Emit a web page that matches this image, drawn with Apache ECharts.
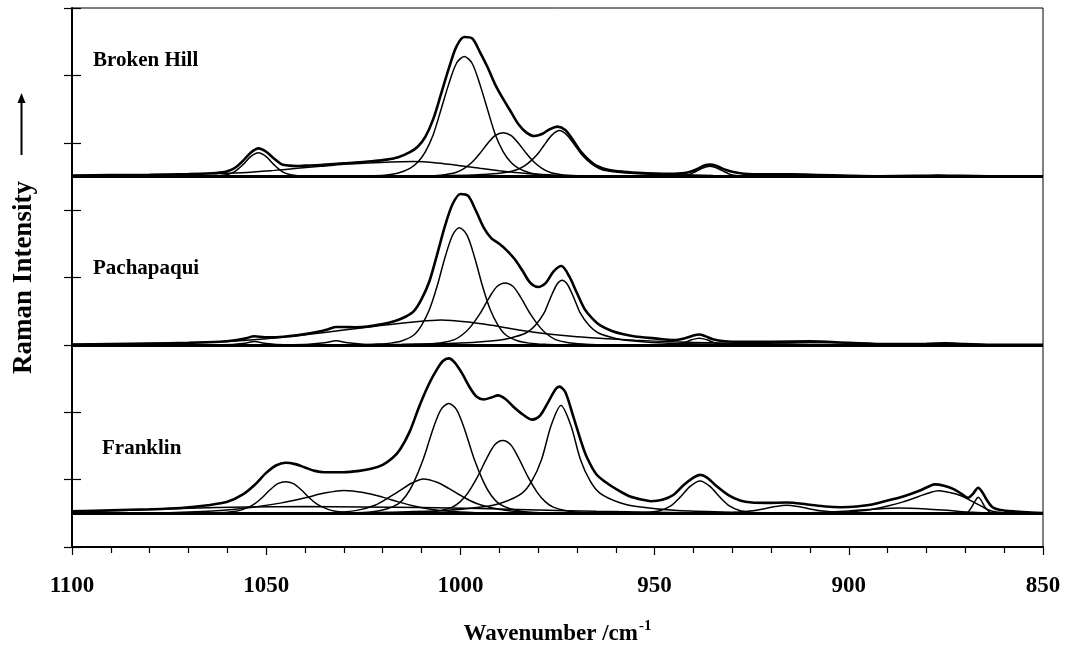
<!DOCTYPE html>
<html>
<head>
<meta charset="utf-8">
<script src="https://cdn.jsdelivr.net/npm/echarts/dist/echarts.min.js"></script>
<style>
  html, body { margin: 0; padding: 0; background: #fff; }
  #chart { width: 1068px; height: 653px; }
</style>
</head>
<body>
<div id="chart"></div>
<script>
// Raman spectra, three samples, fitted components (thin) + overall band (thick)
// values: [wavenumber /cm-1, intensity above the sample's own baseline]

// --- Broken Hill ---
const bhSum = [[1100,0.015],[1090,0.02],[1080,0.025],[1070,0.035],[1064,0.047],[1062,0.057],[1060,0.078],[1058,0.129],[1056,0.231],[1054,0.353],[1052,0.416],[1050,0.366],[1048,0.265],[1046,0.18],[1044,0.16],[1042,0.155],[1040,0.16],[1036,0.17],[1030,0.195],[1027,0.205],[1023,0.225],[1019,0.25],[1016,0.285],[1013,0.36],[1011,0.44],[1009,0.59],[1007,0.85],[1005,1.22],[1003,1.6],[1001,1.93],[999,2.07],[997,2.05],[995,1.85],[993,1.62],[991,1.36],[989,1.15],[987,0.96],[985,0.77],[983,0.65],[981,0.6],[979,0.63],[977,0.7],[975,0.74],[973,0.69],[971,0.54],[969,0.37],[967,0.25],[965,0.16],[962,0.1],[958,0.07],[953,0.05],[948,0.04],[945,0.038],[943,0.045],[941,0.065],[939,0.11],[937,0.165],[935.8,0.175],[934,0.155],[932,0.105],[930,0.07],[927,0.04],[922,0.03],[915,0.03],[908,0.022],[900,0.01],[892,0.003],[883,0.008],[877,0.015],[871,0.008],[864,0.002],[850,0]];
const bh1052 = [[1068,0],[1064,0.005],[1062,0.012],[1060,0.028],[1058,0.076],[1056,0.175],[1054,0.293],[1052,0.35],[1050,0.293],[1048,0.175],[1046,0.076],[1044,0.028],[1042,0.012],[1040,0.005],[1036,0]];
const bhBroad = [[1100,0.01],[1090,0.015],[1080,0.025],[1070,0.035],[1062,0.045],[1055,0.06],[1048,0.09],[1042,0.12],[1036,0.15],[1030,0.18],[1024,0.2],[1018,0.215],[1012,0.22],[1006,0.2],[1000,0.16],[995,0.12],[990,0.085],[985,0.055],[980,0.032],[975,0.018],[968,0.008],[960,0]];
const bh999 = [[1027,0],[1023,0.009],[1019,0.023],[1016,0.05],[1013,0.12],[1011,0.21],[1009,0.37],[1007,0.62],[1005,0.99],[1003,1.37],[1001,1.68],[999,1.78],[997,1.68],[995,1.37],[993,0.99],[991,0.62],[989,0.37],[987,0.21],[985,0.12],[982,0.05],[979,0.023],[975,0.009],[971,0]];
const bh989 = [[1011,0],[1007,0.011],[1004,0.026],[1001,0.062],[999,0.12],[997,0.21],[995,0.34],[993,0.49],[991,0.61],[989,0.65],[987,0.61],[985,0.49],[983,0.34],[981,0.21],[979,0.12],[977,0.062],[974,0.026],[971,0.011],[967,0]];
const bh974 = [[1020,0],[1008,0.008],[996.5,0.02],[991.5,0.039],[988.5,0.059],[985.5,0.1],[983.5,0.157],[981.5,0.25],[980,0.34],[978.5,0.46],[976.5,0.61],[974.5,0.68],[972.5,0.61],[970.5,0.46],[969,0.34],[967.5,0.25],[965.5,0.157],[963.5,0.1],[960.5,0.07],[957.5,0.05],[952.5,0.035],[945,0.025],[935,0.015],[920,0.005],[905,0]];
const bh936 = [[946,0],[943,0.01],[941,0.03],[939.5,0.07],[938,0.115],[935.8,0.15],[933.6,0.115],[932,0.07],[930.5,0.03],[928.5,0.01],[925,0]];
const bh915 = [[935,0],[928,0.01],[922,0.02],[915,0.025],[908,0.02],[900,0.01],[892,0]];
const bh877 = [[890,0],[883,0.008],[877,0.015],[871,0.008],[864,0]];

// --- Pachapaqui ---
const paSum = [[1100,0.005],[1090,0.012],[1080,0.02],[1070,0.03],[1062,0.046],[1058,0.068],[1055.5,0.093],[1053,0.128],[1050.5,0.113],[1048,0.112],[1044,0.13],[1040,0.16],[1037,0.19],[1034,0.232],[1032,0.266],[1030,0.265],[1027,0.262],[1024,0.272],[1020,0.31],[1017,0.35],[1014,0.421],[1012,0.5],[1010,0.68],[1008,0.94],[1006,1.34],[1004,1.76],[1002,2.09],[1000,2.24],[998,2.21],[996,1.99],[994,1.74],[992,1.58],[990,1.5],[988,1.4],[986,1.27],[984,1.1],[982,0.92],[980,0.86],[978,0.92],[976,1.09],[974,1.17],[972,1.02],[970,0.77],[968,0.53],[966,0.39],[964,0.288],[961,0.207],[958,0.157],[955,0.124],[950,0.097],[945,0.071],[942,0.102],[940,0.138],[938.5,0.153],[937,0.13],[935,0.085],[932,0.055],[928,0.044],[920,0.047],[910,0.053],[900,0.031],[890,0.012],[880,0.017],[875,0.023],[870,0.012],[862,0],[850,0]];
const pa1053 = [[1062,0],[1058,0.01],[1055.5,0.025],[1053,0.05],[1050.5,0.025],[1048,0.01],[1044,0]];
const pa1032 = [[1045,0],[1039,0.01],[1035,0.03],[1032,0.06],[1029,0.03],[1025,0.01],[1019,0]];
const paBroad = [[1100,0.005],[1085,0.015],[1070,0.03],[1060,0.05],[1050,0.09],[1040,0.15],[1030,0.22],[1020,0.29],[1012,0.34],[1005,0.37],[998,0.34],[992,0.29],[985,0.22],[978,0.165],[970,0.12],[962,0.09],[955,0.068],[945,0.045],[935,0.03],[920,0.015],[905,0.006],[890,0]];
const pa1000 = [[1026,0],[1022,0.01],[1018,0.026],[1015,0.06],[1012,0.146],[1010,0.29],[1008,0.52],[1006,0.87],[1004,1.29],[1002,1.63],[1000.3,1.74],[998.3,1.63],[996.3,1.29],[994.3,0.87],[992.3,0.52],[990.3,0.29],[988.3,0.146],[985.3,0.06],[982.3,0.026],[978.3,0.008],[974,0]];
const pa988 = [[1013.5,0],[1008.5,0.012],[1004.5,0.035],[1001.5,0.078],[999.5,0.15],[997.5,0.26],[995,0.46],[992.5,0.71],[990.5,0.87],[988.5,0.92],[986.5,0.87],[984.5,0.71],[982,0.46],[979.5,0.26],[977.5,0.15],[975.5,0.078],[972.5,0.035],[968.5,0.012],[963.5,0]];
const pa974 = [[1029,0],[1015,0.01],[1001.4,0.024],[992.2,0.058],[987.6,0.096],[983,0.18],[980.7,0.29],[978.4,0.48],[977.3,0.63],[976.1,0.79],[975,0.91],[973.8,0.96],[972.6,0.91],[971.5,0.79],[970.3,0.63],[969.2,0.48],[966.9,0.29],[964.6,0.18],[960,0.096],[955.4,0.058],[946.2,0.024],[933,0.01],[919,0]];
const pa938 = [[948,0],[944,0.015],[942,0.04],[940.5,0.075],[938.5,0.1],[936.5,0.075],[935,0.04],[933,0.015],[929,0]];
const pa910 = [[935,0],[925,0.015],[917,0.03],[910,0.04],[902,0.03],[893,0.015],[880,0.005],[870,0]];
const pa877 = [[888,0],[880,0.012],[875,0.02],[870,0.012],[862,0]];

// --- Franklin ---
const frSum = [[1100,0.03],[1090,0.045],[1080,0.06],[1072,0.08],[1065,0.12],[1060,0.17],[1056,0.28],[1053,0.42],[1050,0.6],[1047.5,0.71],[1045,0.75],[1042.5,0.73],[1040,0.68],[1037.5,0.63],[1035,0.61],[1030,0.61],[1026,0.63],[1023,0.66],[1020,0.72],[1017.5,0.82],[1015.5,0.95],[1013,1.22],[1010.5,1.6],[1008,1.93],[1006,2.14],[1004.5,2.26],[1003,2.3],[1001.5,2.24],[999.5,2.07],[997.5,1.86],[995.8,1.73],[994,1.69],[992,1.72],[990.3,1.75],[988.5,1.7],[986.5,1.59],[984,1.47],[981.5,1.39],[979.5,1.45],[977.5,1.64],[975.5,1.84],[974.5,1.88],[973,1.8],[971,1.45],[969,1.08],[967.5,0.84],[965,0.58],[962.3,0.45],[959,0.33],[956.3,0.25],[953,0.2],[951,0.18],[948,0.2],[945,0.28],[942.5,0.42],[940,0.53],[938.3,0.57],[936.5,0.53],[934,0.4],[931,0.27],[928,0.19],[925,0.16],[921,0.155],[916,0.16],[911,0.135],[906,0.1],[902,0.09],[898,0.1],[894,0.13],[890,0.19],[886,0.25],[882,0.33],[879,0.41],[877.8,0.43],[875.5,0.41],[873,0.36],[871,0.29],[869.3,0.23],[868,0.29],[866.7,0.38],[865.7,0.32],[864.5,0.2],[863,0.09],[861,0.05],[857,0.025],[853,0.01],[850,0.005]];
const frBroad = [[1100,0.02],[1085,0.045],[1070,0.075],[1055,0.095],[1040,0.1],[1025,0.095],[1010,0.085],[995,0.07],[980,0.05],[965,0.03],[950,0.015],[935,0.005],[920,0]];
const fr1045 = [[1069,0],[1063,0.007],[1060,0.016],[1057,0.04],[1055,0.08],[1053,0.14],[1051,0.235],[1049,0.35],[1047,0.44],[1045,0.47],[1043,0.44],[1041,0.35],[1039,0.235],[1037,0.14],[1035,0.08],[1033,0.04],[1030,0.016],[1027,0.007],[1021,0]];
const fr1030 = [[1090,0],[1075,0.01],[1065,0.03],[1058,0.06],[1052,0.1],[1046,0.155],[1040,0.23],[1035,0.3],[1030,0.34],[1025,0.31],[1020,0.24],[1016,0.17],[1012,0.11],[1008,0.065],[1003,0.03],[996,0.01],[988,0]];
const fr1009 = [[1040,0],[1033,0.01],[1027,0.04],[1022,0.12],[1018,0.25],[1015.5,0.34],[1012.5,0.45],[1009.5,0.51],[1006,0.46],[1003,0.37],[999.5,0.25],[996,0.15],[992.5,0.09],[988,0.04],[983,0.015],[975,0]];
const fr1003 = [[1033,0],[1028,0.008],[1023,0.021],[1019,0.065],[1016,0.14],[1014,0.26],[1012,0.46],[1009.5,0.815],[1007,1.26],[1005,1.54],[1003,1.63],[1001,1.54],[999,1.26],[996.5,0.815],[994,0.46],[992,0.26],[990,0.14],[987,0.065],[983,0.021],[978,0.008],[973,0]];
const fr989 = [[1019,0],[1014.1,0.005],[1009.1,0.014],[1005.1,0.043],[1002.1,0.092],[1000.1,0.17],[998.1,0.3],[995.6,0.54],[993.1,0.83],[991.1,1.02],[989.1,1.08],[987.1,1.02],[985.1,0.83],[982.6,0.54],[980.1,0.3],[978.1,0.17],[976.1,0.092],[973.1,0.043],[969.1,0.014],[964.1,0.005],[959,0]];
const fr974 = [[1034,0],[1019,0.016],[1004.1,0.04],[994.1,0.096],[989.1,0.16],[984.1,0.3],[981.6,0.48],[979.1,0.8],[976.6,1.31],[974.1,1.6],[971.6,1.31],[969.1,0.8],[966.6,0.48],[964.1,0.3],[959.1,0.16],[954.1,0.096],[944.1,0.04],[929,0.016],[914,0]];
const fr938 = [[958.3,0],[953.6,0.007],[951,0.017],[948.5,0.041],[945.95,0.105],[943.4,0.24],[940.85,0.4],[938.3,0.48],[935.75,0.4],[933.2,0.24],[930.65,0.105],[928.1,0.041],[925.55,0.017],[923,0.007],[918,0]];
const fr916 = [[936,0],[930,0.01],[926,0.03],[922,0.065],[919,0.1],[916,0.12],[913,0.1],[910,0.065],[906,0.03],[902,0.01],[896,0]];
const fr887 = [[918,0],[908,0.012],[900,0.035],[894,0.06],[887,0.08],[880,0.065],[874,0.04],[868,0.015],[862,0]];
const fr877 = [[905,0],[900,0.02],[895,0.05],[890,0.11],[886,0.17],[882,0.25],[879,0.31],[877,0.335],[875,0.32],[872,0.28],[870,0.23],[868,0.17],[866,0.11],[864,0.05],[862,0.02],[858,0]];
const fr866 = [[869.5,0],[868.5,0.08],[867.5,0.18],[866.7,0.24],[866,0.2],[865,0.1],[864,0.03],[863.3,0]];

const sampleNames = ['Broken Hill', 'Pachapaqui', 'Franklin'];

// where each spectrum sits on the shared intensity axis
const panels = [
  { offset: 5.5, sum: bhSum, parts: [bh1052, bhBroad, bh999, bh989, bh974, bh936, bh915, bh877] },
  { offset: 3.0, sum: paSum, parts: [pa1053, pa1032, paBroad, pa1000, pa988, pa974, pa938, pa910, pa877] },
  { offset: 0.5, sum: frSum, parts: [frBroad, fr1045, fr1030, fr1009, fr1003, fr989, fr974, fr938, fr916, fr887, fr877, fr866] }
];

const serif = '"Liberation Serif", "Times New Roman", serif';
const chart = echarts.init(document.getElementById('chart'));

const series = [];
panels.forEach(p => {
  const lift = arr => arr.map(([w, v]) => [w, +(v + p.offset).toFixed(4)]);
  p.parts.forEach(part => {
    series.push({
      type: 'line',
      data: lift(part),
      symbol: 'none',
      smooth: 0.3,
      silent: true,
      lineStyle: { color: '#000', width: 1.5 },
      z: 2
    });
  });
  series.push({
    type: 'line',
    data: lift(p.sum),
    symbol: 'none',
    smooth: 0.3,
    silent: true,
    lineStyle: { color: '#000', width: 2.6 },
    z: 3,
    markLine: {
      silent: true,
      symbol: ['none', 'none'],
      label: { show: false },
      lineStyle: { color: '#000', width: 3, type: 'solid' },
      data: [{ yAxis: p.offset }]
    }
  });
});

// panel captions
const captionPos = [[93, 66], [93, 274], [102, 454]];
const graphics = sampleNames.map((n, i) => ({
  type: 'text',
  left: captionPos[i][0],
  top: captionPos[i][1] - 16,
  style: { text: n, font: 'bold 21px ' + serif, fill: '#000' }
}));
// arrow beside the intensity label
graphics.push(
  { type: 'line', shape: { x1: 21.5, y1: 155, x2: 21.5, y2: 100 }, style: { stroke: '#000', lineWidth: 2 } },
  { type: 'polygon', shape: { points: [[21.5, 93], [17.5, 103], [25.5, 103]] }, style: { fill: '#000' } }
);

const yBase = {
  type: 'value',
  min: 0,
  max: 8,
  interval: 1,
  axisLabel: { show: false },
  splitLine: { show: false }
};

chart.setOption({
  animation: false,
  backgroundColor: '#fff',
  grid: {
    left: 72, right: 25, top: 8, bottom: 106,
    show: true, borderColor: '#000', borderWidth: 1
  },
  xAxis: {
    type: 'value',
    min: 850,
    max: 1100,
    interval: 50,
    inverse: true,
    axisLine: { lineStyle: { color: '#000', width: 2 } },
    axisTick: { length: 8, lineStyle: { color: '#000', width: 1.2 } },
    minorTick: { show: true, splitNumber: 5, length: 6, lineStyle: { color: '#000', width: 1.2 } },
    splitLine: { show: false },
    axisLabel: {
      color: '#000', fontFamily: serif, fontWeight: 'bold', fontSize: 23, margin: 28,
      formatter: v => String(v)
    },
    name: '{t|Wavenumber /cm}{s|-1}',
    nameLocation: 'middle',
    nameGap: 72,
    nameTextStyle: {
      rich: {
        t: { fontFamily: serif, fontWeight: 'bold', fontSize: 23, color: '#000' },
        s: { fontFamily: serif, fontWeight: 'bold', fontSize: 15, color: '#000', padding: [0, 0, 16, 1] }
      }
    }
  },
  yAxis: [
    Object.assign({}, yBase, {
      axisLine: { show: true, lineStyle: { color: '#000', width: 2 } },
      axisTick: { show: true, length: 8, lineStyle: { color: '#000', width: 1.2 } },
      name: 'Raman Intensity',
      nameLocation: 'middle',
      nameRotate: 90,
      nameGap: 34,
      nameTextStyle: { color: '#000', fontFamily: serif, fontWeight: 'bold', fontSize: 27 }
    }),
    Object.assign({}, yBase, {
      position: 'left',
      axisLine: { show: false },
      axisTick: { show: true, inside: true, length: 9, lineStyle: { color: '#000', width: 1.2 } }
    })
  ],
  graphic: graphics,
  series: series
});
</script>
</body>
</html>
